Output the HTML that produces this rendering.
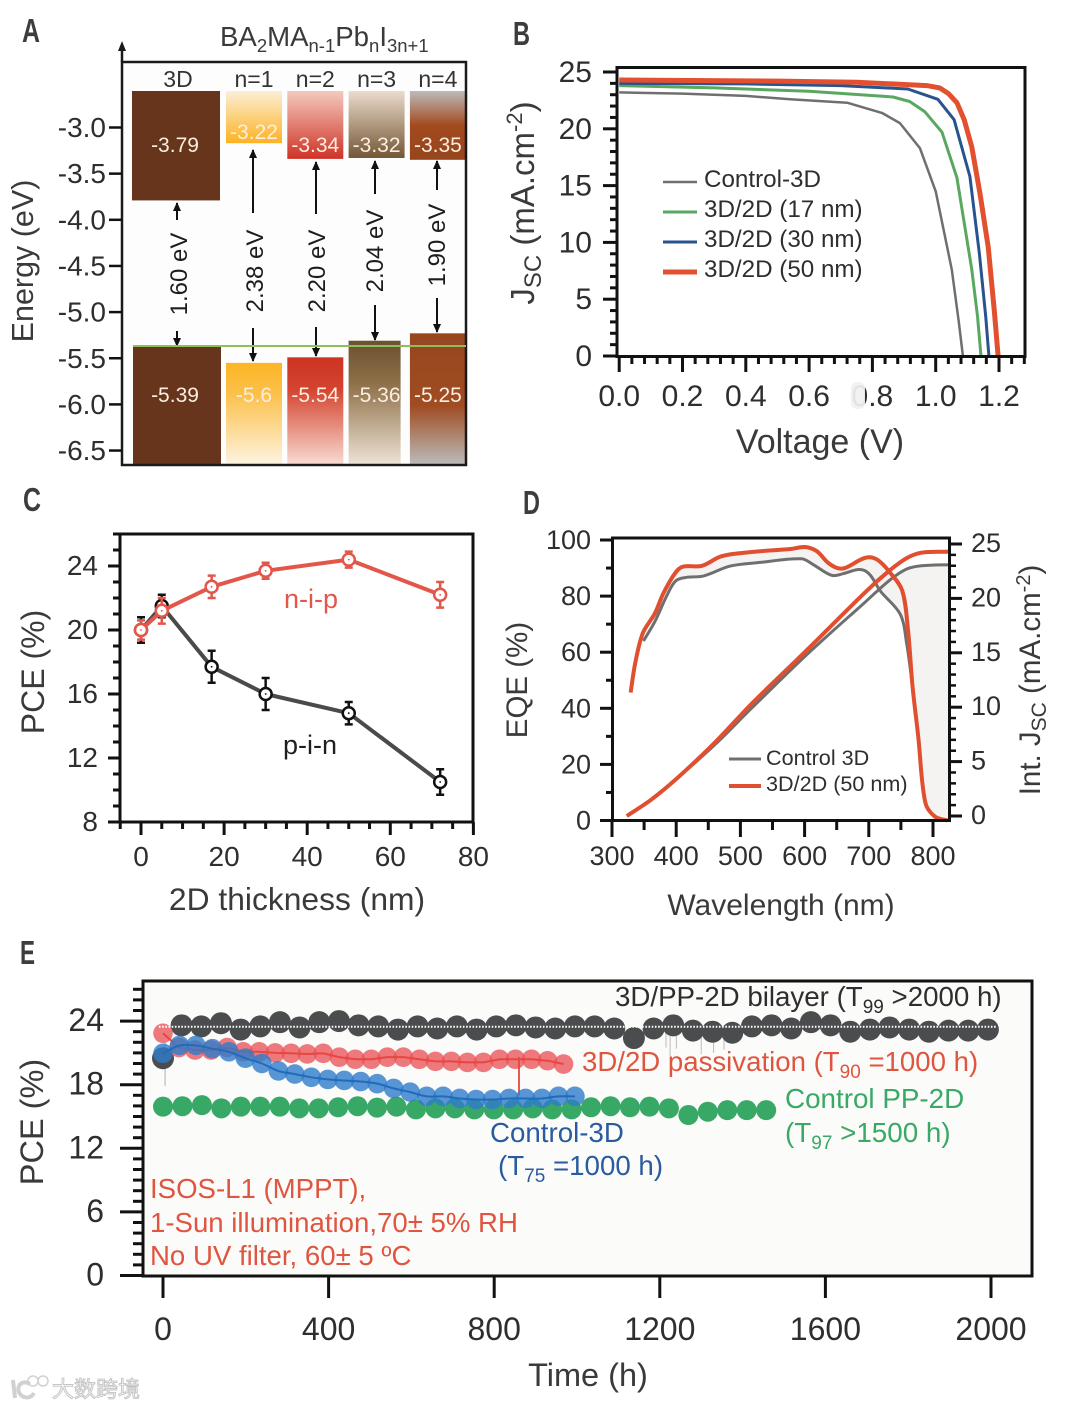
<!DOCTYPE html>
<html lang="en">
<head>
<meta charset="utf-8">
<title>Perovskite solar cell figure</title>
<style>
html,body{margin:0;padding:0;background:#fff;width:1080px;height:1409px;overflow:hidden}
svg{display:block}
text{font-family:"Liberation Sans","Noto Sans CJK SC",sans-serif}
</style>
</head>
<body>
<svg id="fig" xmlns="http://www.w3.org/2000/svg" width="1080" height="1409" viewBox="0 0 1080 1409">
<defs>
<linearGradient id="g1t" x1="0" y1="0" x2="0" y2="1"><stop offset="0" stop-color="#fbefd6"/><stop offset="1" stop-color="#fdb222"/></linearGradient>
<linearGradient id="g1b" x1="0" y1="0" x2="0" y2="1"><stop offset="0" stop-color="#fdb524"/><stop offset="0.3" stop-color="#fcc04a"/><stop offset="1" stop-color="#fdf4e2"/></linearGradient>
<linearGradient id="g2t" x1="0" y1="0" x2="0" y2="1"><stop offset="0" stop-color="#f3cabd"/><stop offset="1" stop-color="#cf3226"/></linearGradient>
<linearGradient id="g2b" x1="0" y1="0" x2="0" y2="1"><stop offset="0" stop-color="#cc3324"/><stop offset="0.3" stop-color="#d4442f"/><stop offset="1" stop-color="#f9dcd3"/></linearGradient>
<linearGradient id="g3t" x1="0" y1="0" x2="0" y2="1"><stop offset="0" stop-color="#ecdccc"/><stop offset="1" stop-color="#735635"/></linearGradient>
<linearGradient id="g3b" x1="0" y1="0" x2="0" y2="1"><stop offset="0" stop-color="#6b5130"/><stop offset="0.35" stop-color="#8f7149"/><stop offset="1" stop-color="#efe3d6"/></linearGradient>
<linearGradient id="g4t" x1="0" y1="0" x2="0" y2="1"><stop offset="0" stop-color="#bdbabb"/><stop offset="0.5" stop-color="#a34a1e"/><stop offset="1" stop-color="#96451d"/></linearGradient>
<linearGradient id="g4b" x1="0" y1="0" x2="0" y2="1"><stop offset="0" stop-color="#96471f"/><stop offset="0.55" stop-color="#a04c22"/><stop offset="1" stop-color="#bcbcbc"/></linearGradient>
<marker id="ah" markerWidth="9" markerHeight="10" refX="8" refY="4" orient="auto" markerUnits="userSpaceOnUse"><path d="M0,0 L9,4 L0,8 Z" fill="#111"/></marker>
</defs>

<!-- panel letters -->
<text x="22" y="42" font-size="33" font-weight="bold" fill="#3d3d3d" textLength="18" lengthAdjust="spacingAndGlyphs">A</text>
<text x="513" y="45" font-size="33" font-weight="bold" fill="#3d3d3d" textLength="17" lengthAdjust="spacingAndGlyphs">B</text>
<text x="23" y="511" font-size="33" font-weight="bold" fill="#3d3d3d" textLength="18" lengthAdjust="spacingAndGlyphs">C</text>
<text x="523" y="514" font-size="33" font-weight="bold" fill="#3d3d3d" textLength="17" lengthAdjust="spacingAndGlyphs">D</text>
<text x="20" y="964" font-size="33" font-weight="bold" fill="#3d3d3d" textLength="15" lengthAdjust="spacingAndGlyphs">E</text>

<!-- panel A static -->
<g id="panelA">
<rect x="122" y="62" width="344" height="403" fill="#fdfdfd"/>
<g id="aBars"></g>
<rect x="122" y="62" width="344" height="403" fill="none" stroke="#1a1a1a" stroke-width="2.5"/>
<line x1="122" y1="62" x2="122" y2="46" stroke="#1a1a1a" stroke-width="2.5"/>
<path d="M122,41 L126,51 L118,51 Z" fill="#1a1a1a"/>
<g id="aTicks"></g>
<text transform="translate(33,261) rotate(-90)" text-anchor="middle" font-size="30.5" fill="#3a3a3a">Energy (eV)</text>
<text x="220" y="46" font-size="27.6" fill="#3a3a3a">BA<tspan font-size="18.5" dy="6">2</tspan><tspan dy="-6">MA</tspan><tspan font-size="18.5" dy="6">n-1</tspan><tspan dy="-6">Pb</tspan><tspan font-size="18.5" dy="6">n</tspan><tspan dy="-6">I</tspan><tspan font-size="18.5" dy="6">3n+1</tspan></text>
<g stroke="#111" stroke-width="2" fill="none" marker-end="url(#ah)">
<line x1="177" y1="220" x2="177" y2="203" marker-end="url(#ah)"/>
<line x1="177" y1="331" x2="177" y2="346" marker-end="url(#ah)"/>
<line x1="253" y1="213" x2="253" y2="150" marker-end="url(#ah)"/>
<line x1="253" y1="328" x2="253" y2="361" marker-end="url(#ah)"/>
<line x1="316" y1="214" x2="316" y2="162" marker-end="url(#ah)"/>
<line x1="316" y1="327" x2="316" y2="356" marker-end="url(#ah)"/>
<line x1="375" y1="194" x2="375" y2="161" marker-end="url(#ah)"/>
<line x1="375" y1="305" x2="375" y2="340" marker-end="url(#ah)"/>
<line x1="437" y1="190" x2="437" y2="161" marker-end="url(#ah)"/>
<line x1="437" y1="298" x2="437" y2="332" marker-end="url(#ah)"/>
</g>
<g font-size="24" fill="#1d1d1d" text-anchor="middle">
<text transform="translate(187,274) rotate(-90)">1.60 eV</text>
<text transform="translate(263,271) rotate(-90)">2.38 eV</text>
<text transform="translate(325,271) rotate(-90)">2.20 eV</text>
<text transform="translate(383,251) rotate(-90)">2.04 eV</text>
<text transform="translate(445,245) rotate(-90)">1.90 eV</text>
</g>
<line x1="133" y1="346" x2="466" y2="346" stroke="#8fbf5a" stroke-width="2"/>
</g>

<!-- panel B static -->
<g id="panelB">
<g id="bTicks"></g>
<g id="bLines"></g>
<rect x="617" y="67.5" width="408" height="289" fill="none" stroke="#111" stroke-width="3"/>
<rect x="851" y="382" width="14" height="27" rx="6" fill="#f1f1f1" opacity="0.93"/>
<text x="820" y="453" text-anchor="middle" font-size="34" fill="#3a3a3a">Voltage (V)</text>
<text transform="translate(534,203) rotate(-90)" text-anchor="middle" font-size="33" fill="#3a3a3a">J<tspan font-size="24" dy="7">SC</tspan><tspan dy="-7"> (mA.cm</tspan><tspan font-size="22" dy="-12">-2</tspan><tspan dy="12">)</tspan></text>
<line x1="663" y1="182" x2="697" y2="182" stroke="#6f6f6f" stroke-width="2.5"/>
<line x1="663" y1="212" x2="697" y2="212" stroke="#5aa860" stroke-width="3"/>
<line x1="663" y1="242" x2="697" y2="242" stroke="#27538f" stroke-width="3"/>
<line x1="663" y1="272" x2="697" y2="272" stroke="#e2502f" stroke-width="5"/>
<g font-size="24.2" fill="#2e2e2e">
<text x="704" y="187">Control-3D</text>
<text x="704" y="217">3D/2D (17 nm)</text>
<text x="704" y="247">3D/2D (30 nm)</text>
<text x="704" y="277">3D/2D (50 nm)</text>
</g>
</g>

<!-- panel C static -->
<g id="panelC">
<g id="cTicks"></g>
<rect x="120" y="534" width="353" height="288" fill="none" stroke="#111" stroke-width="3"/>
<g id="cSeries"></g>
<text x="297" y="910" text-anchor="middle" font-size="31.8" fill="#3a3a3a">2D thickness (nm)</text>
<text transform="translate(44,672) rotate(-90)" text-anchor="middle" font-size="32" fill="#3a3a3a">PCE (%)</text>
<text x="311" y="608" text-anchor="middle" font-size="27" fill="#e2574a">n-i-p</text>
<text x="310" y="754" text-anchor="middle" font-size="27" fill="#1f1f1f">p-i-n</text>
</g>

<!-- panel D static -->
<g id="panelD">
<g id="dFill"></g>
<g id="dTicks"></g>
<g id="dLines"></g>
<rect x="612.5" y="538" width="337" height="282.5" fill="none" stroke="#111" stroke-width="3"/>
<text x="781" y="915" text-anchor="middle" font-size="30" fill="#3a3a3a">Wavelength (nm)</text>
<text transform="translate(527,680) rotate(-90)" text-anchor="middle" font-size="29.5" fill="#3a3a3a">EQE (%)</text>
<text transform="translate(1040,680) rotate(-90)" text-anchor="middle" font-size="29.5" fill="#3a3a3a">Int. J<tspan font-size="21" dy="6">SC</tspan><tspan dy="-6"> (mA.cm</tspan><tspan font-size="20" dy="-10">-2</tspan><tspan dy="10">)</tspan></text>
<line x1="729" y1="759" x2="761" y2="759" stroke="#6f6f6f" stroke-width="3"/>
<line x1="729" y1="786" x2="761" y2="786" stroke="#e04f30" stroke-width="4"/>
<text x="766" y="765" font-size="21.6" fill="#2e2e2e">Control 3D</text>
<text x="766" y="791" font-size="21.6" fill="#2e2e2e">3D/2D (50 nm)</text>
</g>

<!-- panel E static -->
<g id="panelE">
<rect x="143" y="981" width="889" height="295" fill="#fbfbf9"/>
<g id="eTicks"></g>
<g id="eSeries"></g>
<rect x="143" y="981" width="889" height="295" fill="none" stroke="#111" stroke-width="3"/>
<text x="588" y="1386" text-anchor="middle" font-size="32.5" fill="#3a3a3a">Time (h)</text>
<text transform="translate(43,1122) rotate(-90)" text-anchor="middle" font-size="32.5" fill="#3a3a3a">PCE (%)</text>
<text x="615" y="1006" font-size="27.7" fill="#2e2e2e">3D/PP-2D bilayer (T<tspan font-size="19" dy="7">99</tspan><tspan dy="-7"> &gt;2000 h)</tspan></text>
<text x="582" y="1071" font-size="27.6" fill="#e0553f">3D/2D passivation (T<tspan font-size="19" dy="7">90</tspan><tspan dy="-7"> =1000 h)</tspan></text>
<text x="785" y="1108" font-size="27.8" fill="#3aa866">Control PP-2D</text>
<text x="785" y="1142" font-size="27.8" fill="#3aa866">(T<tspan font-size="19" dy="7">97</tspan><tspan dy="-7"> &gt;1500 h)</tspan></text>
<text x="490" y="1142" font-size="27.7" fill="#2a5a9f">Control-3D</text>
<text x="498" y="1175" font-size="27.7" fill="#2a5a9f">(T<tspan font-size="19" dy="7">75</tspan><tspan dy="-7"> =1000 h)</tspan></text>
<g font-size="27.6" fill="#e0553f">
<text x="150" y="1198">ISOS-L1 (MPPT),</text>
<text x="150" y="1232">1-Sun illumination,70± 5% RH</text>
<text x="150" y="1265">No UV filter, 60± 5 ºC</text>
</g>
</g>

<!-- watermark -->
<g opacity="0.85">
<path d="M13,1380 L15,1398 M30,1384 C20,1378 14,1390 22,1396 C27,1399 32,1397 34,1393" fill="none" stroke="#c9c9c9" stroke-width="4"/>
<circle cx="33" cy="1381" r="5" fill="none" stroke="#c9c9c9" stroke-width="1.5"/>
<circle cx="43" cy="1381" r="5" fill="none" stroke="#c9c9c9" stroke-width="1.5"/>
<text x="52" y="1397" font-size="22" fill="#ffffff" stroke="#bdbdbd" stroke-width="1" style="font-family:'Noto Sans CJK SC',sans-serif">大数跨境</text>
</g>
</svg>

<script>
/* ---------- Panel A data ---------- */
const aCategories = ['3D', 'n=1', 'n=2', 'n=3', 'n=4'];
const aConduction = [-3.79, -3.17, -3.34, -3.33, -3.35];
const aValence = [-5.37, -5.55, -5.49, -5.31, -5.23];
const aConductionLabels = ['-3.79', '-3.22', '-3.34', '-3.32', '-3.35'];
const aValenceLabels = ['-5.39', '-5.6', '-5.54', '-5.36', '-5.25'];
const aTickValues = [-3, -3.5, -4, -4.5, -5, -5.5, -6, -6.5];
const aTickLabels = ['-3.0', '-3.5', '-4.0', '-4.5', '-5.0', '-5.5', '-6.0', '-6.5'];

/* ---------- Panel B data ---------- */
const bXTicks = [0, 0.2, 0.4, 0.6, 0.8, 1.0, 1.2];
const bXTickLabels = ['0.0', '0.2', '0.4', '0.6', '0.8', '1.0', '1.2'];
const bYTicks = [0, 5, 10, 15, 20, 25];
const controlV = [0, 0.2, 0.4, 0.54, 0.72, 0.83, 0.887, 0.95, 1.0, 1.051, 1.073, 1.086];
const controlJ = [23.2, 23.1, 22.9, 22.6, 22.3, 21.4, 20.5, 18.3, 14.5, 7.6, 3.0, 0];
const nm17V = [0, 0.3, 0.6, 0.865, 0.918, 0.966, 1.02, 1.067, 1.114, 1.132, 1.143];
const nm17J = [23.8, 23.6, 23.3, 22.8, 22.4, 21.5, 19.7, 15.7, 7.6, 3.5, 0];
const nm30V = [0, 0.4, 0.7, 0.912, 1.007, 1.058, 1.108, 1.138, 1.158, 1.168];
const nm30J = [24, 23.95, 23.8, 23.5, 22.6, 20.8, 15.8, 9, 3.5, 0];
const nm50V = [0, 0.5, 0.75, 0.972, 1.013, 1.04, 1.067, 1.09, 1.114, 1.14, 1.166, 1.185, 1.197];
const nm50J = [24.3, 24.2, 24.1, 23.8, 23.6, 23.1, 22.3, 20.8, 18.4, 14.3, 9.6, 4.0, 0];

/* ---------- Panel C data ---------- */
const cXTicks = [0, 20, 40, 60, 80];
const cYTicks = [8, 12, 16, 20, 24];
const thickness = [0, 5, 17, 30, 50, 72];
const nipPCE = [20, 21.2, 22.7, 23.7, 24.4, 22.2];
const nipErr = [0.6, 0.8, 0.7, 0.5, 0.5, 0.8];
const pinPCE = [20, 21.5, 17.7, 16, 14.8, 10.5];
const pinErr = [0.8, 0.7, 1.0, 1.0, 0.7, 0.8];

/* ---------- Panel D data ---------- */
const dXTicks = [300, 400, 500, 600, 700, 800];
const dYTicks = [0, 20, 40, 60, 80, 100];
const dRightTicks = [0, 5, 10, 15, 20, 25];
const eqeRedW = [329, 336, 348, 367, 380, 399, 411, 440, 468, 488, 531, 578, 601, 619, 636, 651, 663, 695, 713, 733, 752, 761, 768, 777, 788, 803, 823];
const eqeRedV = [45.6, 55.9, 66.8, 73.9, 81, 88.4, 90.5, 90.8, 94, 95, 96, 96.8, 97.5, 96, 92, 90, 90, 93.7, 93, 88.4, 82, 68, 48, 30, 6.4, 1.4, 0];
const eqeGrayW = [349, 367, 385, 399, 414, 443, 484, 531, 595, 613, 642, 660, 686, 701, 718, 749, 759, 768];
const eqeGrayV = [64, 71, 80, 85.4, 86.6, 87.2, 90.7, 92, 93.3, 91.3, 87.4, 88, 89.5, 87.8, 81.8, 73.5, 63, 48];
const intRedW = [323, 361, 402, 461, 519, 601, 695, 733, 759, 782, 825];
const intRedV = [0, 1.5, 3.5, 6.8, 10.4, 15.1, 20.6, 22.6, 23.7, 24.2, 24.3];
const intGrayW = [323, 361, 402, 461, 519, 601, 695, 733, 759, 782, 825];
const intGrayV = [0, 1.5, 3.5, 6.6, 10.0, 14.7, 19.7, 21.7, 22.7, 23, 23.1];

/* ---------- Panel E data ---------- */
const eXTicks = [0, 400, 800, 1200, 1600, 2000];
const eYTicks = [0, 6, 12, 18, 24];
const bilayerFirstTime = [0];
const bilayerFirstPCE = [20.5];
const bilayerTimeStep = 47.5;
const bilayerTimeStart = 45;
const bilayerPCE = [23.6, 23.5, 23.8, 23.2, 23.5, 23.9, 23.4, 23.9, 24.0, 23.6, 23.5, 23.2, 23.5, 23.3, 23.5, 23.2, 23.5, 23.6, 23.4, 23.3, 23.5, 23.5, 23.3, 22.4, 23.3, 23.6, 23.1, 23.0, 22.9, 23.5, 23.6, 23.3, 23.9, 23.6, 23.0, 23.2, 23.4, 23.2, 23.0, 23.1, 23.1, 23.2];
const bilayerMean = [23.47, 23.47];
const bilayerMeanTime = [-10, 2015];
const controlPPTimeStep = 47;
const controlPP = [15.93, 15.97, 16.07, 15.77, 15.93, 15.93, 15.93, 15.77, 15.77, 15.87, 15.97, 15.84, 15.93, 15.67, 15.77, 15.77, 15.67, 15.67, 15.67, 15.77, 15.67, 15.67, 15.87, 15.97, 15.87, 15.93, 15.77, 15.14, 15.45, 15.6, 15.6, 15.6];
const passivationTimeStep = 38.7;
const passivation = [22.85, 21.5, 21.27, 21.27, 21.5, 21.1, 21.1, 21.0, 20.96, 20.9, 20.96, 20.6, 20.4, 20.4, 20.6, 20.6, 20.4, 20.2, 20.2, 20.1, 20.1, 20.4, 20.4, 20.4, 20.26, 19.95];
const passivationSpikeTime = [860, 860];
const passivationSpikePCE = [20.6, 17.0];
const control3DTimeStep = 39.8;
const control3D = [20.96, 21.7, 21.7, 21.4, 21.1, 20.5, 20.0, 19.3, 19.0, 18.7, 18.5, 18.4, 18.3, 18.1, 17.65, 17.3, 16.9, 16.9, 16.7, 16.6, 16.6, 16.7, 16.7, 16.7, 16.9, 16.9];
const firstDipTime = [5, 5];
const firstDipPCE = [22, 17.9];
const bilayerDipTimes = [1135, 1215, 1225, 1240, 1300, 1330, 1355];
const bilayerDipPCE = [22.2, 21.5, 20.7, 21.4, 20.9, 21.0, 21.3];

/* ---------- scales ---------- */
const yA = v => 127.5 + (-3 - v) * 92.3;
const xB = v => 619.2 + v * 316.5;
const yB = j => 356 - j * 11.36;
const xC = t => 141 + t * 4.155;
const yC = p => 822 - (p - 8) * 16;
const xD = w => 612 + (w - 300) * 0.642;
const yD = v => 820.5 - v * 2.805;
const yDr = v => 816 - v * 10.88;
const xE = t => 163 + t * 0.414;
const yE = p => 1275.5 - p * 10.6;

/* ---------- helpers ---------- */
const NS = 'http://www.w3.org/2000/svg';
function mk(parent, tag, attrs) {
  const el = document.createElementNS(NS, tag);
  for (const k in attrs) el.setAttribute(k, attrs[k]);
  parent.appendChild(el);
  return el;
}
function label(parent, str, x, y, size, fill, anchor) {
  const el = mk(parent, 'text', { x: x, y: y, 'font-size': size, fill: fill, 'text-anchor': anchor });
  el.textContent = str;
  return el;
}
function tick(parent, x1, y1, x2, y2, w, name) {
  const el = mk(parent, 'line', { x1: x1, y1: y1, x2: x2, y2: y2, stroke: '#111', 'stroke-width': w });
  
  
  return el;
}
function poly(parent, xs, ys, sx, sy, color, width, name) {
  const pts = xs.map((x, i) => sx(x).toFixed(1) + ',' + sy(ys[i]).toFixed(1)).join(' ');
  const el = mk(parent, 'polyline', { points: pts, fill: 'none', stroke: color, 'stroke-width': width, 'stroke-linejoin': 'round', 'stroke-linecap': 'butt' });
  
  
  return el;
}
/* smooth line through the data points: tangents follow neighbours, handle length follows segment length */
function smooth(parent, xs, ys, sx, sy, color, width, name) {
  const p = xs.map((x, i) => [sx(x), sy(ys[i])]);
  const tan = p.map((q, i) => {
    const a = p[Math.max(i - 1, 0)], b = p[Math.min(i + 1, p.length - 1)];
    const dx = b[0] - a[0], dy = b[1] - a[1], l = Math.hypot(dx, dy) || 1;
    return [dx / l, dy / l];
  });
  let d = 'M' + p[0][0].toFixed(1) + ',' + p[0][1].toFixed(1);
  for (let i = 0; i < p.length - 1; i++) {
    const l = Math.hypot(p[i + 1][0] - p[i][0], p[i + 1][1] - p[i][1]) / 3;
    d += 'C' + (p[i][0] + tan[i][0] * l).toFixed(1) + ',' + (p[i][1] + tan[i][1] * l).toFixed(1) + ' ' +
         (p[i + 1][0] - tan[i + 1][0] * l).toFixed(1) + ',' + (p[i + 1][1] - tan[i + 1][1] * l).toFixed(1) + ' ' +
         p[i + 1][0].toFixed(1) + ',' + p[i + 1][1].toFixed(1);
  }
  const el = mk(parent, 'path', { d: d, fill: 'none', stroke: color, 'stroke-width': width, 'stroke-linejoin': 'round' });
  
  
  return el;
}
const TICK = '#2e2e2e';

/* ---------- Panel A ---------- */
const aBars = document.getElementById('aBars');
const aTicks = document.getElementById('aTicks');
const bandLeft = i => i === 0 ? 132 : 226 + (i - 1) * 61.3;
const bandWidth = i => i === 0 ? 88 : 56;
const topFill = ['#66351b', 'url(#g1t)', 'url(#g2t)', 'url(#g3t)', 'url(#g4t)'];
const botFill = ['#66351b', 'url(#g1b)', 'url(#g2b)', 'url(#g3b)', 'url(#g4b)'];
aCategories.forEach((c, i) => {
  const head = label(aBars, c, bandLeft(i) + bandWidth(i) / 2 - (i === 0 ? -2 : 0), 87, 23, '#333', 'middle');
  
  
  const top = mk(aBars, 'rect', { x: bandLeft(i), y: 91, width: bandWidth(i), height: yA(aConduction[i]) - 91, fill: topFill[i] });
  
  
  const botW = i === 3 ? 52 : bandWidth(i);
  const bot = mk(aBars, 'rect', { x: bandLeft(i) + (i === 0 ? 1 : 0), y: yA(aValence[i]), width: botW, height: 465 - yA(aValence[i]), fill: botFill[i] });
  
  
  const cx = bandLeft(i) + bandWidth(i) / 2 + (i === 0 ? -1 : 0);
  const t1 = label(aBars, aConductionLabels[i], cx, Math.min(152, yA(aConduction[i]) - 4), 21, '#fbeee0', 'middle');
  
  
  const t2 = label(aBars, aValenceLabels[i], cx, 402, 21, '#fbeee0', 'middle');
  
  
});
aTickValues.forEach((v, i) => {
  tick(aTicks, 109, yA(v), 122, yA(v), 2.5, 'energy-tick');
  const t = label(aTicks, aTickLabels[i], 106, yA(v) + 9.5, 28, TICK, 'end');
  
  
});

/* ---------- Panel B ---------- */
const bTicks = document.getElementById('bTicks');
const bLines = document.getElementById('bLines');
bXTicks.forEach((v, i) => {
  tick(bTicks, xB(v), 356, xB(v), 372, 3, 'voltage-tick');
  const t = label(bTicks, bXTickLabels[i], xB(v), 406, 30, TICK, 'middle');
  
  
  for (let m = 1; m < 5 && v + m * 0.04 < 1.285; m++) {
    tick(bTicks, xB(v + m * 0.04), 356, xB(v + m * 0.04), 364, 3, 'voltage-minor-tick');
  }
});
bYTicks.forEach(v => {
  tick(bTicks, 603, yB(v), 617, yB(v), 3, 'jsc-tick');
  const t = label(bTicks, String(v), 592, yB(v) + 10, 30, TICK, 'end');
  
  
  if (v < 25) for (let m = 1; m < 5; m++) {
    tick(bTicks, 610, yB(v + m), 617, yB(v + m), 3, 'jsc-minor-tick');
  }
});
poly(bLines, controlV, controlJ, xB, yB, '#6f6f6f', 2.5, 'series-control-3d');
poly(bLines, nm17V, nm17J, xB, yB, '#5aa860', 3, 'series-3d2d-17nm');
poly(bLines, nm30V, nm30J, xB, yB, '#27538f', 3, 'series-3d2d-30nm');
poly(bLines, nm50V, nm50J, xB, yB, '#e2502f', 5, 'series-3d2d-50nm');

/* ---------- Panel C ---------- */
const cTicks = document.getElementById('cTicks');
const cSeries = document.getElementById('cSeries');
cXTicks.forEach(v => {
  tick(cTicks, xC(v), 822, xC(v), 835, 3, 'thickness-tick');
  const t = label(cTicks, String(v), xC(v), 866, 28, TICK, 'middle');
  
  
  if (v < 80) for (const m of [5, 10, 15]) {
    tick(cTicks, xC(v + m), 822, xC(v + m), 829, 3, 'thickness-minor-tick');
  }
});
tick(cTicks, xC(-5), 822, xC(-5), 829, 3, 'thickness-minor-tick');
cYTicks.forEach(v => {
  tick(cTicks, 108, yC(v), 120, yC(v), 3, 'pce-tick');
  const t = label(cTicks, String(v), 98, yC(v) + 9, 28, TICK, 'end');
  
  
  const n = v === 24 ? 2 : 3;
  for (let m = 1; m <= n; m++) {
    tick(cTicks, 113, yC(v + m), 120, yC(v + m), 3, 'pce-minor-tick');
  }
});
function errorSeries(vals, errs, lineColor, errColor, markColor, name) {
  poly(cSeries, thickness, vals, xC, yC, lineColor, 4, name);
  thickness.forEach((x, i) => {
    const px = xC(x), hi = yC(vals[i] + errs[i]), lo = yC(vals[i] - errs[i]);
    const bar = mk(cSeries, 'path', { d: 'M' + (px - 4) + ',' + hi + 'H' + (px + 4) + 'M' + px + ',' + hi + 'V' + lo + 'M' + (px - 4) + ',' + lo + 'H' + (px + 4), stroke: errColor, 'stroke-width': 2.5, fill: 'none' });
    
    
  });
  thickness.forEach((x, i) => {
    const c = mk(cSeries, 'circle', { cx: xC(x), cy: yC(vals[i]), r: 6, fill: '#fff', stroke: markColor, 'stroke-width': 2.5 });
    
    
    const d = mk(cSeries, 'circle', { cx: xC(x), cy: yC(vals[i]), r: 0.9, fill: markColor });
    
    
  });
}
errorSeries(pinPCE, pinErr, '#4a4a4a', '#111', '#111', 'series-p-i-n');
errorSeries(nipPCE, nipErr, '#e2574a', '#e2574a', '#e2574a', 'series-n-i-p');

/* ---------- Panel D ---------- */
const dFill = document.getElementById('dFill');
const dTicks = document.getElementById('dTicks');
const dLines = document.getElementById('dLines');
dXTicks.forEach(v => {
  tick(dTicks, xD(v), 820.5, xD(v), 837, 3, 'wavelength-tick');
  const t = label(dTicks, String(v), xD(v), 865, 27, TICK, 'middle');
  
  
  if (v < 800) tick(dTicks, xD(v + 50), 820.5, xD(v + 50), 830, 3, 'wavelength-minor-tick');
});
dYTicks.forEach(v => {
  tick(dTicks, 600, yD(v), 612.5, yD(v), 3, 'eqe-tick');
  const t = label(dTicks, String(v), 591, yD(v) + 9, 27, TICK, 'end');
  
  
  if (v < 100) tick(dTicks, 606, yD(v + 10), 612.5, yD(v + 10), 3, 'eqe-minor-tick');
});
dRightTicks.forEach(v => {
  tick(dTicks, 949.5, yDr(v), 962, yDr(v), 3, 'int-jsc-tick');
  const t = label(dTicks, String(v), 971, yDr(v) + 8, 27, TICK, 'start');
  
  
  if (v < 25) for (let m = 1; m < 5; m++) {
    tick(dTicks, 949.5, yDr(v + m), 956, yDr(v + m), 2.5, 'int-jsc-minor-tick');
  }
});
function bandPoints(topW, topV, topScale, botW, botV, botScale) {
  const a = topW.map((w, i) => xD(w).toFixed(1) + ',' + topScale(topV[i]).toFixed(1));
  const b = botW.map((w, i) => xD(w).toFixed(1) + ',' + botScale(botV[i]).toFixed(1)).reverse();
  return a.concat(b).join(' ');
}
const shadeA = mk(dFill, 'polygon', { points: bandPoints(eqeRedW.slice(5, 22), eqeRedV.slice(5, 22), yD, eqeGrayW.slice(3, 17), eqeGrayV.slice(3, 17), yD), fill: '#f4f3f1' });


const shadeB = mk(dFill, 'polygon', { points: bandPoints(intGrayW.slice(7), intGrayV.slice(7), yDr, eqeRedW.slice(19), eqeRedV.slice(19), yD), fill: '#f4f3f1' });


smooth(dLines, intGrayW, intGrayV, xD, yDr, '#6f6f6f', 3, 'series-int-jsc-control');
smooth(dLines, eqeGrayW, eqeGrayV, xD, yD, '#6f6f6f', 3, 'series-eqe-control');
smooth(dLines, intRedW, intRedV, xD, yDr, '#e04f30', 4, 'series-int-jsc-3d2d');
smooth(dLines, eqeRedW, eqeRedV, xD, yD, '#e04f30', 4, 'series-eqe-3d2d');

/* ---------- Panel E ---------- */
const eTicks = document.getElementById('eTicks');
const eSeries = document.getElementById('eSeries');
eXTicks.forEach(v => {
  tick(eTicks, xE(v), 1276, xE(v), 1298, 3, 'time-tick');
  const t = label(eTicks, String(v), xE(v), 1340, 32, TICK, 'middle');
  
  
});
eYTicks.forEach(v => {
  tick(eTicks, 120, yE(v), 143, yE(v), 3, 'stability-pce-tick');
  const t = label(eTicks, String(v), 104, yE(v) + 10, 32, TICK, 'end');
  
  
  for (let m = 1; m < (v === 24 ? 4 : 6); m++) {
    tick(eTicks, 133, yE(v + m), 143, yE(v + m), 3, 'stability-pce-minor-tick');
  }
});
function dots(times, vals, r, color, opacity, name) {
  times.forEach((t, i) => {
    const c = mk(eSeries, 'circle', { cx: xE(t), cy: yE(vals[i]), r: r, fill: color, 'fill-opacity': opacity });
    
    
  });
}
const bilayerTimes = bilayerPCE.map((_, i) => bilayerTimeStart + i * bilayerTimeStep);
const controlPPTimes = controlPP.map((_, i) => i * controlPPTimeStep);
const passivationTimes = passivation.map((_, i) => i * passivationTimeStep);
const control3DTimes = control3D.map((_, i) => i * control3DTimeStep);

poly(eSeries, firstDipTime, firstDipPCE, xE, yE, '#c9c9c9', 1.5, 'bilayer-initial-dip');
bilayerDipTimes.forEach((t, i) => {
  poly(eSeries, [t, t], [23, bilayerDipPCE[i]], xE, yE, '#bbbbbb', 1, 'bilayer-dip');
});
dots(bilayerFirstTime, bilayerFirstPCE, 11, '#4a4c4e', 1, 'bilayer-marker');
dots(bilayerTimes, bilayerPCE, 11, '#4a4c4e', 1, 'bilayer-marker');
dots(controlPPTimes, controlPP, 10, '#38a866', 1, 'control-pp2d-marker');
dots(passivationTimes, passivation, 9.8, '#ea5558', 0.78, 'passivation-marker');
poly(eSeries, passivationTimes, passivation, xE, yE, '#e8463f', 2, 'passivation-line');
poly(eSeries, passivationSpikeTime, passivationSpikePCE, xE, yE, '#e8463f', 1.8, 'passivation-spike');
dots(control3DTimes, control3D, 9.8, '#2f7ccb', 0.8, 'control-3d-marker');
smooth(eSeries, control3DTimes, control3D, xE, yE, '#1f6cbb', 2, 'control-3d-line');
const meanLine = poly(eSeries, bilayerMeanTime, bilayerMean, xE, yE, '#ffffff', 2, 'bilayer-dotted-line');
meanLine.setAttribute('stroke-dasharray', '1.6 1.6');
</script>
</body>
</html>
